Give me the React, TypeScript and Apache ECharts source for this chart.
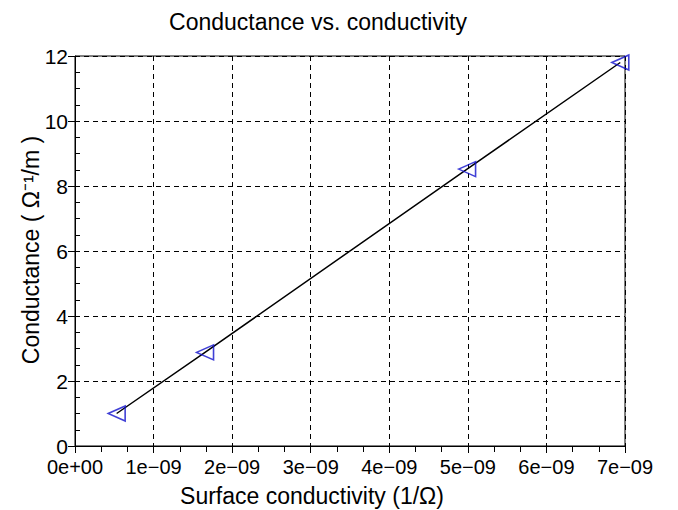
import React, { useEffect, useRef } from "react";
import * as echarts from "echarts";

const surfaceConductivity = [0.53e-9, 1.655e-9, 4.99e-9, 6.94e-9];
const conductance = [1.0, 2.88, 8.52, 11.8];
const titleText = "Conductance vs. conductivity";
const xName = "Surface conductivity (1/\u03A9)";
const yName = "Conductance ( \u03A9\u207B\u00B9/m )";

function fmtX(v: number): string {
  if (Math.abs(v) < 1e-15) return "0e+00";
  const n = Math.round(v / 1e-9);
  return `${n}e\u221209`;
}

export default function App() {
  const ref = useRef<HTMLDivElement>(null);
  useEffect(() => {
    if (!ref.current) return;
    const chart = echarts.init(ref.current, undefined, { renderer: "svg" });
    const pts = surfaceConductivity.map((x, i) => [x, conductance[i]]);
    const font = "Liberation Sans, Arial, sans-serif";
    chart.setOption({
      animation: false,
      backgroundColor: "#fff",
      graphic: [
        {
          type: "text",
          x: 318,
          y: 22,
          style: {
            text: titleText,
            fontFamily: font,
            fontSize: 23,
            fill: "#000",
            align: "center",
            verticalAlign: "middle",
          },
        },
        {
          type: "text",
          x: 312,
          y: 496,
          style: {
            text: xName,
            fontFamily: font,
            fontSize: 23,
            fill: "#000",
            align: "center",
            verticalAlign: "middle",
          },
        },
        {
          type: "text",
          x: 31,
          y: 250,
          rotation: Math.PI / 2,
          style: {
            text: yName,
            fontFamily: font,
            fontSize: 23,
            fill: "#000",
            align: "center",
            verticalAlign: "middle",
          },
        },
      ],
      grid: {
        left: 75,
        right: 53,
        top: 56,
        bottom: 64,
        show: true,
        borderColor: "#000",
        borderWidth: 1,
        backgroundColor: "transparent",
      },
      xAxis: {
        type: "value",
        min: 0,
        max: 7e-9,
        interval: 1e-9,
        axisLine: { show: true, lineStyle: { color: "#000", width: 1 } },
        axisTick: { show: true, length: 7, lineStyle: { color: "#000" } },
        minorTick: { show: true, splitNumber: 3, length: 6, lineStyle: { color: "#000" } },
        axisLabel: { formatter: fmtX, fontFamily: font, fontSize: 20, color: "#000", margin: 11 },
        splitLine: { show: true, lineStyle: { color: "#000", type: [5, 4], width: 1 } },
      },
      yAxis: [
        {
          type: "value",
          min: 0,
          max: 12,
          interval: 2,
          axisLine: { show: true, lineStyle: { color: "#000", width: 1 } },
          axisTick: { show: true, length: 7, lineStyle: { color: "#000" } },
          axisLabel: { fontFamily: font, fontSize: 21, color: "#000", margin: 7 },
          splitLine: { show: true, lineStyle: { color: "#000", type: [5, 4], width: 1 } },
        },
        {
          type: "value",
          min: 0,
          max: 12,
          interval: 2,
          position: "left",
          axisLine: { show: false },
          axisTick: { show: false, inside: true },
          minorTick: { show: true, splitNumber: 4, length: 5, lineStyle: { color: "#000" } },
          axisLabel: { show: false },
          splitLine: { show: false },
        },
      ],
      series: [
        {
          type: "line",
          data: pts,
          symbol: "none",
          lineStyle: { color: "#000", width: 1.5 },
          z: 2,
        },
        {
          type: "scatter",
          data: pts,
          symbol: "triangle",
          symbolRotate: 90,
          symbolSize: [15, 17],
          itemStyle: { color: "transparent", borderColor: "#1010cc", borderWidth: 1.5 },
          z: 3,
        },
      ],
    });
    return () => chart.dispose();
  }, []);
  return (
    <div
      ref={ref}
      style={{ position: "absolute", left: 0, top: 0, width: 678, height: 510 }}
    />
  );
}
